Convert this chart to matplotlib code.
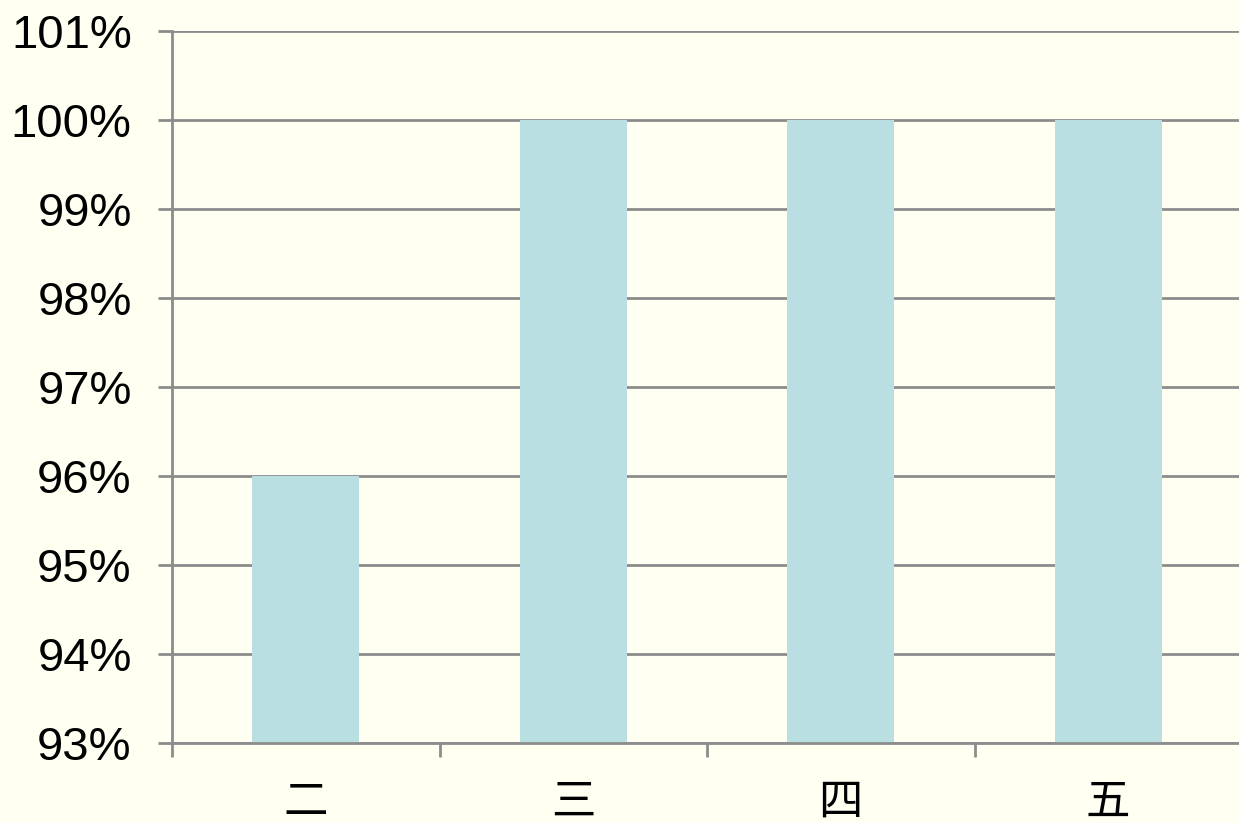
import matplotlib
matplotlib.use('Agg')
import matplotlib.pyplot as plt
from matplotlib.ticker import FuncFormatter

# Data
categories = ['二', '三', '四', '五']
values = [96, 100, 100, 100]
yticks = list(range(93, 102))

bg = '#FFFFF2'
bar_color = '#BADFE3'
grid_color = '#8C8C8C'

fig = plt.figure(figsize=(12.39, 8.23), dpi=100, facecolor=bg)
ax = fig.add_axes([172 / 1239, 80 / 823, 1070 / 1239, 712 / 823], facecolor=bg)

x = list(range(len(categories)))
ax.bar(x, [v - 93 for v in values], bottom=93, width=0.4, color=bar_color, zorder=2)

ax.set_xlim(-0.5, len(categories) - 0.5)
ax.set_ylim(93, 101)
ax.set_yticks(yticks)
ax.yaxis.set_major_formatter(FuncFormatter(lambda v, p: f'{int(v)}%'))
ax.grid(axis='y', color=grid_color, linewidth=2, zorder=1)

# category boundaries as major ticks, names as minor labels
ax.set_xticks([i - 0.5 for i in range(len(categories) + 1)])
ax.set_xticklabels([])
ax.set_xticks(x, minor=True)
ax.set_xticklabels(categories, minor=True, fontsize=32,
                   family=['Noto Sans CJK SC', 'DejaVu Sans'])
ax.tick_params(axis='x', which='minor', length=0, pad=26)
ax.tick_params(axis='x', which='major', length=10, width=2, color=grid_color)
ax.tick_params(axis='y', length=10, width=2, color=grid_color, pad=19)
for lbl in ax.get_yticklabels():
    lbl.set_fontsize(34)
    lbl.set_family('Liberation Sans')

for side in ['top', 'right']:
    ax.spines[side].set_visible(False)
for side in ['left', 'bottom']:
    ax.spines[side].set_color(grid_color)
    ax.spines[side].set_linewidth(2)

plt.savefig('out.png', facecolor=bg)
plt.close()
